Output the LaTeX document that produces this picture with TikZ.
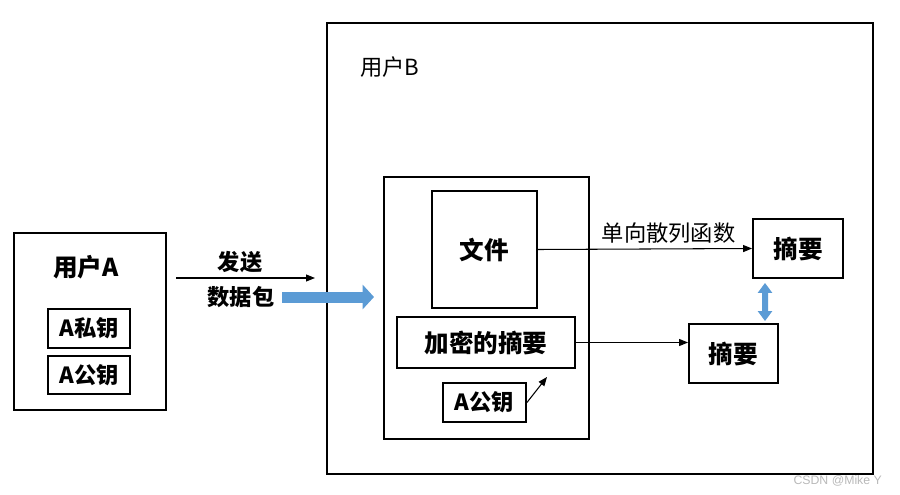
\documentclass[tikz,border=0pt]{standalone}
\usepackage{fontspec}
\setmainfont{Noto Sans CJK SC}
\newfontfamily\wmfont{Liberation Sans}
\usetikzlibrary{
  arrows.meta,
  positioning
}
\definecolor{pkgblue}{RGB}{91,155,213}

\begin{document}
\begin{tikzpicture}[x=0.3mm,y=-0.3mm,
  box/.style={rectangle,draw=black,line width=1.6pt,fill=white,inner sep=0pt},
  bigtxt/.style={font=\fontsize{21}{25}\selectfont\bfseries},
  smalltxt/.style={font=\fontsize{19}{23}\selectfont\bfseries},
  thintxt/.style={font=\fontsize{19}{23}\selectfont},
  >={Triangle[length=2.7mm,width=2.1mm]},
  link/.style={->,line width=0.9pt},
  fatarrow/.style={pkgblue,line width=3.3mm,-{Triangle[length=3.4mm,width=7.2mm]}},
  bothway/.style={pkgblue,line width=1.8mm,{Triangle[length=3mm,width=4.2mm]}-{Triangle[length=3mm,width=4.2mm]}}]
  \useasboundingbox (0,0) rectangle (900,495);
  % user A
  \node[box,minimum width=45.6mm,minimum height=53.1mm] (userA) at (90,321.5) {};
  \node[bigtxt] (nameA) at (86,267) {用户A};
  \node[box,smalltxt,minimum width=24.6mm,minimum height=11.7mm] (privA) at (89,328.5) {A私钥};
  \node[box,smalltxt,minimum width=24.6mm,minimum height=11.4mm] (pubA) at (89,375) {A公钥};
  % sending
  \coordinate (sendS) at (176,278);
  \coordinate (sendE) at (315,278);
  \draw[link] (sendS) -- (sendE);
  \node[smalltxt] (sendT) at (240,262) {发送};
  \node[smalltxt] (pkgT) at (241,297) {数据包};
  % user B
  \node[box,minimum width=163.8mm,minimum height=135.3mm] (userB) at (600,248.5) {};
  \node[thintxt] (nameB) at (390,67) {用户B};
  \coordinate (pkgS) at (282,297);
  \coordinate (pkgE) at (374,297);
  \draw[fatarrow] (pkgS) -- (pkgE);
  \node[box,minimum width=61.5mm,minimum height=78.6mm] (pkg) at (486.5,308) {};
  \node[box,bigtxt,minimum width=31.5mm,minimum height=35.1mm] (file) at (484.5,249.5) {文件};
  \node[box,bigtxt,minimum width=53.4mm,minimum height=15.3mm] (encdig) at (486,342.5) {加密的摘要};
  \node[box,smalltxt,minimum width=24.9mm,minimum height=11.7mm] (pubB) at (484.5,402.5) {A公钥};
  \node[box,bigtxt,minimum width=27mm,minimum height=17.7mm] (dig1) at (798,248.5) {摘要};
  \node[box,bigtxt,minimum width=26.7mm,minimum height=17.7mm] (dig2) at (733.5,353.5) {摘要};
  \coordinate (keyE) at (547,377);
  \draw[link] (file.east) -- node[pos=0.61,above=0.3mm,thintxt] (hashT) {单向散列函数} (dig1.west);
  \draw[link] (encdig.east) -- (encdig.east -| dig2.west);
  \draw[link] (pubB.east) -- (keyE);
  \draw[bothway] ([xshift=-9.9mm,yshift=-1.2mm]dig1.south) -- ([xshift=9.45mm,yshift=0.6mm]dig2.north);
  % watermark
  \node[anchor=east,text=gray!55,font=\wmfont\fontsize{10.5}{12}\selectfont] (wm) at (886,481) {CSDN @Mike Y};
\end{tikzpicture}
\end{document}
